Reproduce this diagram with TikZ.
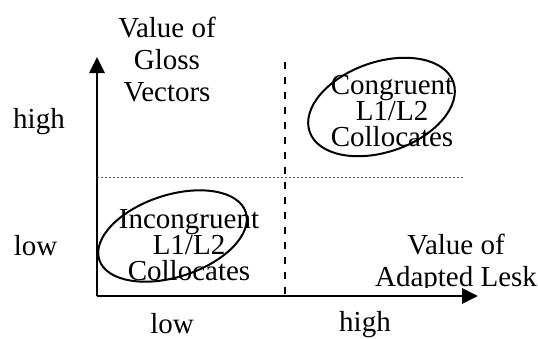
\documentclass[tikz,border=0pt]{standalone}
\usepackage{fontspec}
\setmainfont{Liberation Serif}
\usetikzlibrary{arrows.meta}
\begin{document}
\begin{tikzpicture}[x=1pt,y=-1pt,
  lbl/.style={font=\fontsize{29}{32}\selectfont, align=center, inner sep=0pt},
  elltxt/.style={font=\fontsize{29}{26}\selectfont, align=center, inner sep=0pt},
  axis/.style={line width=2.8pt, -{Triangle[length=16pt,width=15pt]}},
  ell/.style={draw, line width=2pt}]
\useasboundingbox (0,0) rectangle (538,338);
% axes
\coordinate (O) at (97,296);
\coordinate (ytop) at (97,57);
\coordinate (xend) at (478,296);
% quadrant lines
\coordinate (hl) at (97,177);
\coordinate (hr) at (463,177);
\coordinate (vt) at (285,62);
\coordinate (vb) at (285,296);
\draw[gray!70!black, line width=1pt, dash pattern=on 2pt off 2pt] (hl) -- (hr);
\draw[line width=2pt, dash pattern=on 7pt off 8pt] (vt) -- (vb);
% ellipses
\coordinate (ce1) at (381.5,107);
\coordinate (ce2) at (172.5,236);
\draw[ell, rotate around={19:(ce1)}] (ce1) ellipse [x radius=76pt, y radius=45pt];
\draw[ell, rotate around={18:(ce2)}] (ce2) ellipse [x radius=77pt, y radius=41pt];
% texts
\node[lbl] (ylab) at (167,60) {Value of\\Gloss\\Vectors};
\node[elltxt] (cong) at (392,111) {Congruent\\L1/L2\\Collocates};
\node[elltxt] (incong) at (189,245) {Incongruent\\L1/L2\\Collocates};
\begin{scope}
\clip (370,225) rectangle (538,287);
\node[lbl] (xlab) at (456,263) {Value of\\Adapted Lesk};
\end{scope}
\node[lbl, anchor=base] (yhigh) at (39,128) {high};
\node[lbl, anchor=base] (ylow) at (35.5,255) {low};
\node[lbl, anchor=base] (xlow) at (172,333) {low};
\node[lbl, anchor=base] (xhigh) at (365,331) {high};
% axes on top
\draw[axis] (O) -- (ytop);
\draw[axis] (O) -- (xend);
\end{tikzpicture}
\end{document}
